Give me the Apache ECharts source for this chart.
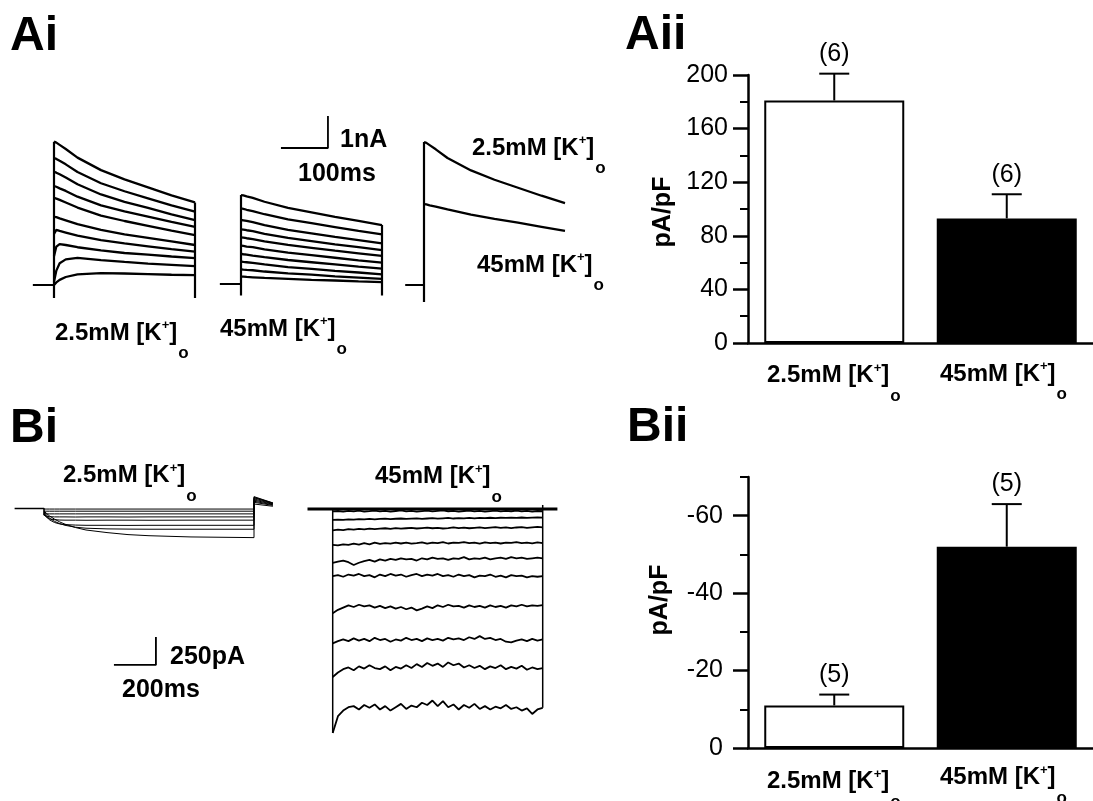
<!DOCTYPE html>
<html>
<head>
<meta charset="utf-8">
<script src="https://cdn.jsdelivr.net/npm/echarts@6/dist/echarts.min.js"></script>
<style>
  html, body { margin: 0; padding: 0; background: #fff; }
  #main { width: 1093px; height: 801px; }
</style>
</head>
<body>
<div id="main"></div>
<script>
// Ai: outward K currents, time in ms, current in nA
const aiTimes = [0, 5, 12, 25, 50, 100, 150, 200, 250, 300];
const aiLowTraces = [
  [4.48, 4.45, 4.38, 4.25, 3.98, 3.59, 3.30, 3.05, 2.80, 2.58],
  [3.97, 3.94, 3.88, 3.77, 3.53, 3.18, 2.93, 2.71, 2.49, 2.29],
  [3.54, 3.51, 3.46, 3.36, 3.15, 2.83, 2.60, 2.41, 2.21, 2.03],
  [3.09, 3.07, 3.02, 2.94, 2.76, 2.49, 2.30, 2.14, 1.97, 1.82],
  [2.72, 2.70, 2.66, 2.58, 2.42, 2.17, 2.00, 1.85, 1.70, 1.56],
  [2.13, 2.12, 2.08, 2.02, 1.90, 1.72, 1.58, 1.47, 1.36, 1.25],
  [1.60, 1.72, 1.69, 1.64, 1.54, 1.40, 1.30, 1.21, 1.12, 1.04],
  [0.90, 1.20, 1.28, 1.25, 1.18, 1.08, 1.00, 0.95, 0.89, 0.84],
  [0.10, 0.45, 0.68, 0.80, 0.85, 0.78, 0.72, 0.67, 0.63, 0.59],
  [0.00, 0.08, 0.16, 0.25, 0.33, 0.37, 0.36, 0.34, 0.32, 0.31]
];
const aiHighTraces = [
  [2.78, 2.77, 2.74, 2.69, 2.57, 2.38, 2.24, 2.10, 1.97, 1.84],
  [2.36, 2.35, 2.32, 2.28, 2.18, 2.02, 1.90, 1.78, 1.66, 1.55],
  [2.00, 1.99, 1.97, 1.93, 1.84, 1.69, 1.58, 1.47, 1.37, 1.27],
  [1.71, 1.70, 1.68, 1.65, 1.57, 1.44, 1.34, 1.24, 1.15, 1.06],
  [1.46, 1.45, 1.43, 1.40, 1.33, 1.22, 1.13, 1.04, 0.96, 0.88],
  [1.20, 1.19, 1.17, 1.15, 1.08, 0.98, 0.90, 0.82, 0.74, 0.67],
  [0.94, 0.93, 0.92, 0.89, 0.84, 0.75, 0.68, 0.61, 0.54, 0.48],
  [0.70, 0.69, 0.68, 0.66, 0.61, 0.53, 0.47, 0.41, 0.36, 0.30],
  [0.46, 0.45, 0.44, 0.43, 0.39, 0.33, 0.29, 0.24, 0.20, 0.16],
  [0.23, 0.23, 0.22, 0.21, 0.19, 0.16, 0.13, 0.11, 0.08, 0.06]
];
const aiOverlayLow = [4.47, 4.44, 4.37, 4.24, 3.97, 3.58, 3.29, 3.04, 2.79, 2.56];
const aiOverlayHigh = [2.53, 2.52, 2.49, 2.45, 2.36, 2.20, 2.07, 1.95, 1.82, 1.69];
// capacitive dip at the steps (left, middle, overlay)
const aiDip = [-0.41, -0.36, -0.53];
const aiLead = [-45, -45, -40];
// scale bar 100 ms / 1 nA
const aiScaleBar = [[85, 4.25], [185, 4.25], [185, 5.25]];

// Aii / Bii: current densities (pA/pF)
const barCats = ['2.5mM', '45mM'];
const aiiMeans = [181, 93];
const aiiErrors = [20, 18];
const aiiN = [6, 6];
const biiMeans = [-11, -52];
const biiErrors = [2.8, 11];
const biiN = [5, 5];
const biiMajorTicks = [-60, -40, -20, 0];
const biiMinorTicks = [-70, -50, -30, -10];

// Bi left: inward currents in 2.5 mM, time ms, current pA
const biLowTimes = [0, 10, 25, 50, 75, 100, 150, 200, 300, 400, 500, 700, 1000];
const biLowTraces = [
  [-5, -5, -5, -5, -5, -5, -5, -5, -5, -5, -5, -5, -5],
  [-24, -24, -24, -24, -24, -24, -24, -24, -24, -24, -24, -24, -24],
  [-48, -48, -48, -48, -48, -48, -48, -48, -48, -48, -48, -48, -48],
  [-60, -68, -73, -75, -75, -75, -76, -75, -75, -76, -75, -75, -75],
  [-50, -75, -92, -100, -103, -104, -104, -105, -104, -104, -105, -104, -104],
  [-40, -70, -100, -125, -138, -144, -148, -150, -150, -151, -150, -150, -150],
  [-30, -55, -85, -115, -135, -150, -167, -176, -182, -184, -185, -185, -185],
  [-25, -40, -65, -95, -120, -140, -170, -192, -215, -233, -243, -254, -260]
];
const biTailPeak = [40, 55, 65, 75, 85, 95, 100, 106];
const biTailEnd = [20, 28, 33, 38, 42, 46, 48, 50];
// scale bar 200 ms / 250 pA
const biScaleBar = [[333, -1397], [533, -1397], [533, -1147]];

// Bi right: inward currents in 45 mM
const biHighTimes = [
  0, 25, 50, 75, 100, 125, 150, 175, 200, 225,
  250, 275, 300, 325, 350, 375, 400, 425, 450, 475,
  500, 525, 550, 575, 600, 625, 650, 675, 700, 725,
  750, 775, 800, 825, 850, 875, 900, 925, 950, 975,
  1000
];
const biHighTraces = [
  [-22, -18, -24, -16, -21, -15, -23, -19, -14, -22,
   -17, -24, -18, -13, -21, -16, -23, -19, -15, -22,
   -17, -12, -20, -16, -23, -18, -14, -21, -17, -24,
   -19, -15, -22, -16, -20, -14, -21, -17, -23, -18,
   -20],
  [-98, -95, -97, -92, -95, -90, -93, -88, -92, -89,
   -86, -90, -87, -85, -89, -86, -84, -88, -85, -82,
   -86, -83, -80, -85, -82, -84, -80, -83, -79, -82,
   -78, -81, -78, -80, -77, -80, -76, -79, -77, -75,
   -77],
  [-190, -185, -188, -180, -184, -178, -182, -175, -180, -176,
   -172, -178, -170, -176, -172, -168, -174, -170, -166, -172,
   -168, -174, -170, -165, -170, -166, -172, -168, -164, -170,
   -166, -162, -168, -164, -170, -165, -162, -168, -164, -160,
   -164],
  [-320, -325, -315, -320, -310, -318, -305, -315, -300, -312,
   -305, -310, -300, -308, -300, -310, -305, -298, -310, -300,
   -305, -295, -308, -300, -303, -295, -305, -300, -310, -298,
   -305, -300, -308, -300, -303, -296, -305, -300, -306, -298,
   -305],
  [-480, -470, -460, -475, -500, -480, -465, -455, -470, -450,
   -460, -445, -455, -440, -450, -445, -460, -440, -450, -435,
   -445, -440, -455, -440, -445, -430, -450, -440, -445, -435,
   -450, -440, -435, -445, -430, -440, -435, -445, -440, -435,
   -440],
  [-600, -590, -605, -585, -595, -580, -600, -590, -610, -585,
   -600, -580, -595, -585, -605, -590, -580, -600, -585, -595,
   -580, -600, -590, -605, -585, -600, -590, -610, -595, -600,
   -585, -605, -595, -610, -590, -600, -595, -610, -600, -605,
   -600],
  [-930, -900, -880, -860, -875, -855, -870, -860, -880, -865,
   -885, -870, -890, -875, -895, -880, -905, -890, -870, -885,
   -860, -875, -855, -870, -865, -880, -860, -875, -865, -880,
   -860, -875, -865, -880, -860, -870, -855, -870, -860, -865,
   -858],
  [-1200, -1180, -1165, -1180, -1155, -1175, -1160, -1180, -1150, -1170,
   -1160, -1185, -1165, -1175, -1150, -1170, -1160, -1180, -1155, -1170,
   -1160, -1175, -1150, -1165, -1155, -1170, -1145, -1160, -1135, -1160,
   -1150, -1170, -1160, -1185, -1190, -1175, -1165, -1180, -1160, -1175,
   -1165],
  [-1500, -1460, -1430, -1415, -1440, -1405, -1425, -1395, -1420, -1430,
   -1405, -1440, -1410, -1425, -1395, -1420, -1385, -1410, -1375, -1400,
   -1380, -1410, -1370, -1395, -1380, -1415, -1395, -1420, -1400, -1430,
   -1405, -1420, -1395, -1430, -1410, -1425, -1400, -1435, -1415, -1430,
   -1420],
  [-2000, -1850, -1800, -1770, -1760, -1790, -1750, -1775, -1745, -1790,
   -1760, -1800, -1770, -1740, -1785, -1755, -1770, -1730, -1750, -1710,
   -1760, -1715, -1770, -1745, -1790, -1750, -1775, -1740, -1785, -1760,
   -1790, -1765, -1780, -1750, -1785, -1770, -1800, -1780, -1830, -1790,
   -1775]
];
const biHighBaseline = [[-120, 0], [1070, 0]];
const biHighEndTop = 36;

const FAMILY = '"Liberation Sans", Arial, Helvetica, sans-serif';
const boldFont = size => `bold ${size}px ${FAMILY}`;
const measureCtx = document.createElement('canvas').getContext('2d');
function textWidth(str, font) {
  measureCtx.font = font;
  return measureCtx.measureText(str).width;
}

function txt(text, x, y, font, extra) {
  return Object.assign({
    type: 'text', x, y, silent: true,
    style: {
      text, font, fill: '#000',
      align: 'left', verticalAlign: 'middle',
      textAlign: 'left', textVerticalAlign: 'middle'
    }
  }, extra || {});
}

// "2.5mM [K+]o" with superscript + and subscript o
function kLabel(prefix, x, y, size) {
  size = size || 24;
  const main = boldFont(size);
  const sup = boldFont(Math.round(size * 0.55));
  const sub = boldFont(Math.round(size * 0.72));
  const head = prefix + ' [K';
  const w1 = textWidth(head, main);
  const w2 = textWidth('+', sup);
  const w3 = textWidth(']', main);
  return {
    type: 'group',
    children: [
      txt(head, x, y, main),
      txt('+', x + w1, y - size * 0.3, sup),
      txt(']', x + w1 + w2, y, main),
      txt('o', x + w1 + w2 + w3 + 1, y + size * 0.85, sub)
    ]
  };
}

function line(idx, data, width, z) {
  return {
    type: 'line', xAxisIndex: idx, yAxisIndex: idx, data,
    symbol: 'none', silent: true, animation: false, z: z || 2,
    lineStyle: { color: '#000', width: width }
  };
}
const pairs = (times, vals) => times.map((t, i) => [t, vals[i]]);

const series = [];

// Ai left / middle families
[aiLowTraces, aiHighTraces].forEach((traces, g) => {
  series.push(line(g, [[aiLead[g], 0], [0, 0]], 2.2));
  traces.forEach(v => series.push(line(g, pairs(aiTimes, v), 2.3)));
  series.push(line(g, [[0, aiDip[g]], [0, traces[0][0]]], 2.2));
  series.push(line(g, [[300, aiDip[g]], [300, traces[0][traces[0].length - 1]]], 2.2));
});
series.push(line(1, aiScaleBar, 1.8));
// Ai overlay
series.push(line(2, [[aiLead[2], 0], [0, 0]], 2.2));
series.push(line(2, [[0, aiDip[2]], [0, aiOverlayLow[0]]], 2.2));
series.push(line(2, pairs(aiTimes, aiOverlayLow), 2.3));
series.push(line(2, pairs(aiTimes, aiOverlayHigh), 2.3));

// Bi left
series.push(line(4, [[-140, 0], [0, 0], [0, -60]], 1.6));
biLowTraces.forEach((v, i) => {
  const d = pairs(biLowTimes, v);
  d.push([1000, biTailPeak[i]], [1090, biTailEnd[i]]);
  series.push(line(4, d, 1));
});
series.push(line(4, biScaleBar, 1.8));

// Bi right
series.push(line(5, biHighBaseline, 3));
biHighTraces.forEach(v => series.push(line(5, pairs(biHighTimes, v), 1.8)));
series.push(line(5, [[0, 0], [0, biHighTraces[biHighTraces.length - 1][0]]], 1.5));
series.push(line(5, [[1000, biHighTraces[biHighTraces.length - 1][40]], [1000, biHighEndTop]], 1.5));

// bar charts with SEM
function barSeries(idx, means) {
  return {
    type: 'bar', xAxisIndex: idx, yAxisIndex: idx, barWidth: 140,
    silent: true, animation: false, z: 2,
    data: means.map((m, i) => ({
      value: m,
      itemStyle: i === 0
        ? { color: '#fff', borderColor: '#000', borderWidth: 2 }
        : { color: '#000', borderColor: '#000', borderWidth: 2 }
    }))
  };
}
function errSeries(idx, means, errs, ns) {
  return {
    type: 'custom', xAxisIndex: idx, yAxisIndex: idx,
    silent: true, animation: false, z: 3,
    data: means.map((m, i) => [i, m, errs[i], ns[i]]),
    renderItem(params, api) {
      const m = api.value(1);
      const e = api.value(2);
      const top = m < 0 ? m - e : m + e;
      const p0 = api.coord([api.value(0), m]);
      const p1 = api.coord([api.value(0), top]);
      const st = { stroke: '#000', lineWidth: 2 };
      return {
        type: 'group',
        children: [
          { type: 'line', shape: { x1: p0[0], y1: p0[1], x2: p1[0], y2: p1[1] }, style: st },
          { type: 'line', shape: { x1: p1[0] - 15, y1: p1[1], x2: p1[0] + 15, y2: p1[1] }, style: st },
          {
            type: 'text',
            style: {
              text: '(' + api.value(3) + ')', x: p1[0], y: p1[1] - 7,
              font: `25px ${FAMILY}`, fill: '#000',
              align: 'center', verticalAlign: 'bottom',
              textAlign: 'center', textVerticalAlign: 'bottom'
            }
          }
        ]
      };
    }
  };
}
series.push(barSeries(3, aiiMeans), errSeries(3, aiiMeans, aiiErrors, aiiN));
series.push(barSeries(6, biiMeans), errSeries(6, biiMeans, biiErrors, biiN));

const hiddenX = (gridIndex, min, max) => ({ gridIndex, type: 'value', min, max, show: false });
const hiddenY = (gridIndex, min, max) => ({ gridIndex, type: 'value', min, max, show: false });
const catX = gridIndex => ({
  gridIndex, type: 'category', data: barCats,
  axisLine: { lineStyle: { color: '#000', width: 2.5 } },
  axisTick: { show: false }, axisLabel: { show: false }
});
const tickLabel = margin => ({ color: '#000', fontSize: 25, fontFamily: FAMILY, margin });
const rotated = (text, x, y) => ({
  type: 'text', x, y, rotation: Math.PI / 2, silent: true,
  style: {
    text, font: boldFont(25), fill: '#000',
    align: 'center', verticalAlign: 'middle', textAlign: 'center', textVerticalAlign: 'middle'
  }
});

const option = {
  backgroundColor: '#fff',
  animation: false,
  grid: [
    { left: 30.5, top: 105.8, width: 173.9, height: 198.4 },
    { left: 217.5, top: 104.8, width: 173.9, height: 198.4 },
    { left: 400.5, top: 105.8, width: 173.9, height: 198.4 },
    { left: 748, top: 75, width: 348, height: 268 },
    { left: 12.5, top: 486.1, width: 273, height: 190.4 },
    { left: 307.5, top: 497.8, width: 260.4, height: 246.4 },
    { left: 748, top: 477, width: 348, height: 271 }
  ],
  xAxis: [
    hiddenX(0, -50, 320), hiddenX(1, -50, 320), hiddenX(2, -50, 320),
    catX(3),
    hiddenX(4, -150, 1150), hiddenX(5, -120, 1120),
    catX(6)
  ],
  yAxis: [
    hiddenY(0, -0.6, 5.6), hiddenY(1, -0.6, 5.6), hiddenY(2, -0.6, 5.6),
    {
      gridIndex: 3, type: 'value', min: 0, max: 200, interval: 40,
      axisLine: { show: true, lineStyle: { color: '#000', width: 2.5 } },
      axisTick: { show: true, length: 15, lineStyle: { color: '#000', width: 2.5 } },
      minorTick: { show: true, splitNumber: 2, length: 8, lineStyle: { color: '#000', width: 2 } },
      axisLabel: tickLabel(20),
      splitLine: { show: false }
    },
    hiddenY(4, -1500, 200), hiddenY(5, -2100, 100),
    {
      gridIndex: 6, type: 'value', min: -70, max: 0, inverse: true, position: 'left',
      axisLine: { show: true, lineStyle: { color: '#000', width: 2.5 } },
      axisTick: { show: true, length: 15, customValues: biiMajorTicks, lineStyle: { color: '#000', width: 2.5 } },
      axisLabel: Object.assign(tickLabel(25), { customValues: biiMajorTicks }),
      splitLine: { show: false }
    },
    {
      gridIndex: 6, type: 'value', min: -70, max: 0, inverse: true, position: 'left', offset: 0,
      axisLine: { show: false },
      axisTick: { show: true, length: 8, customValues: biiMinorTicks, lineStyle: { color: '#000', width: 2 } },
      axisLabel: { show: false },
      splitLine: { show: false }
    }
  ],
  graphic: [
    txt('Ai', 10, 37, boldFont(48)),
    txt('Aii', 625, 35.5, boldFont(48)),
    txt('Bi', 10, 429, boldFont(48)),
    txt('Bii', 627, 428, boldFont(48)),

    txt('1nA', 340, 140.5, boldFont(25)),
    txt('100ms', 298, 174, boldFont(25)),
    kLabel('2.5mM', 55, 333),
    kLabel('45mM', 220, 329),
    kLabel('2.5mM', 472, 148),
    kLabel('45mM', 477, 265),

    rotated('pA/pF', 663, 212),
    kLabel('2.5mM', 767, 375.5),
    kLabel('45mM', 940, 374),

    kLabel('2.5mM', 63, 475.5),
    kLabel('45mM', 375, 476.5),
    txt('250pA', 170, 657.5, boldFont(25)),
    txt('200ms', 122, 690.5, boldFont(25)),

    rotated('pA/pF', 660, 600),
    kLabel('2.5mM', 767, 781.5),
    kLabel('45mM', 940, 777.5)
  ],
  series
};

const myChart = echarts.init(document.getElementById('main'));
myChart.setOption(option);
</script>
</body>
</html>
